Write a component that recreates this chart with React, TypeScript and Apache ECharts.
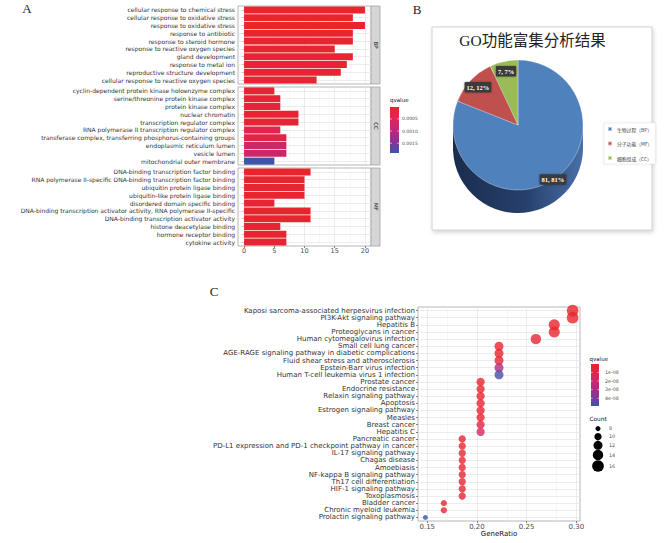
import React, { useEffect, useRef } from 'react';
import * as echarts from 'echarts';

// ---------------- Panel A: GO bar chart ----------------
const bpTerms = [
  'cellular response to chemical stress',
  'cellular response to oxidative stress',
  'response to oxidative stress',
  'response to antibiotic',
  'response to steroid hormone',
  'response to reactive oxygen species',
  'gland development',
  'response to metal ion',
  'reproductive structure development',
  'cellular response to reactive oxygen species',
];
const bpCounts = [20, 18, 20, 18, 18, 15, 18, 17, 16, 12];
const bpQ = [0.00001, 0.00002, 0.00001, 0.00003, 0.00004, 0.00008, 0.00005, 0.00006, 0.00007, 0.0001];

const ccTerms = [
  'cyclin-dependent protein kinase holoenzyme complex',
  'serine/threonine protein kinase complex',
  'protein kinase complex',
  'nuclear chromatin',
  'transcription regulator complex',
  'RNA polymerase II transcription regulator complex',
  'transferase complex, transferring phosphorus-containing groups',
  'endoplasmic reticulum lumen',
  'vesicle lumen',
  'mitochondrial outer membrane',
];
const ccCounts = [5, 6, 6, 9, 9, 6, 7, 7, 7, 5];
const ccQ = [0.00012, 0.00015, 0.0002, 0.0001, 0.0001, 0.0004, 0.0003, 0.0007, 0.00072, 0.0019];

const mfTerms = [
  'DNA-binding transcription factor binding',
  'RNA polymerase II-specific DNA-binding transcription factor binding',
  'ubiquitin protein ligase binding',
  'ubiquitin-like protein ligase binding',
  'disordered domain specific binding',
  'DNA-binding transcription activator activity, RNA polymerase II-specific',
  'DNA-binding transcription activator activity',
  'histone deacetylase binding',
  'hormone receptor binding',
  'cytokine activity',
];
const mfCounts = [11, 10, 10, 10, 5, 11, 11, 6, 7, 7];
const mfQ = [0.00003, 0.00005, 0.00006, 0.00006, 0.0001, 0.00004, 0.00004, 0.00012, 0.00009, 0.00011];

const ontologyLabels = ['BP', 'CC', 'MF'];
const countTicksA = [0, 5, 10, 15, 20];
const countMinorA = [2.5, 7.5, 12.5, 17.5];
const qTicksA = [0.0005, 0.001, 0.0015];
const qTickLabelsA = ['0.0005', '0.0010', '0.0015'];

// ---------------- Panel B: pie ----------------
const pieTitle = 'GO功能富集分析结果';
const pieNames = ['生物过程（BP）', '分子功能（MF）', '细胞组成（CC）'];
const pieValues = [81, 12, 7];

// ---------------- Panel C: KEGG dot plot ----------------
const keggTerms = [
  'Kaposi sarcoma-associated herpesvirus infection',
  'PI3K-Akt signaling pathway',
  'Hepatitis B',
  'Proteoglycans in cancer',
  'Human cytomegalovirus infection',
  'Small cell lung cancer',
  'AGE-RAGE signaling pathway in diabetic complications',
  'Fluid shear stress and atherosclerosis',
  'Epstein-Barr virus infection',
  'Human T-cell leukemia virus 1 infection',
  'Prostate cancer',
  'Endocrine resistance',
  'Relaxin signaling pathway',
  'Apoptosis',
  'Estrogen signaling pathway',
  'Measles',
  'Breast cancer',
  'Hepatitis C',
  'Pancreatic cancer',
  'PD-L1 expression and PD-1 checkpoint pathway in cancer',
  'IL-17 signaling pathway',
  'Chagas disease',
  'Amoebiasis',
  'NF-kappa B signaling pathway',
  'Th17 cell differentiation',
  'HIF-1 signaling pathway',
  'Toxoplasmosis',
  'Bladder cancer',
  'Chronic myeloid leukemia',
  'Prolactin signaling pathway',
];
const keggRatio = [
  0.2963, 0.2963, 0.2778, 0.2778, 0.2593,
  0.2222, 0.2222, 0.2222, 0.2222, 0.2222,
  0.2037, 0.2037, 0.2037, 0.2037, 0.2037, 0.2037, 0.2037, 0.2037,
  0.1852, 0.1852, 0.1852, 0.1852, 0.1852, 0.1852, 0.1852, 0.1852, 0.1852,
  0.1667, 0.1667, 0.1481,
];
const keggCount = [
  16, 16, 15, 15, 14,
  12, 12, 12, 12, 12,
  11, 11, 11, 11, 11, 11, 11, 11,
  10, 10, 10, 10, 10, 10, 10, 10, 10,
  9, 9, 8,
];
const keggQ = [
  2.1e-10, 3.5e-10, 1.2e-9, 1.3e-9, 2.8e-9,
  1.5e-9, 1.6e-9, 2.4e-9, 2.9e-8, 4.7e-8,
  9e-10, 1.0e-9, 1.8e-9, 1.9e-9, 2.2e-9, 3.1e-9, 6.5e-9, 1.6e-8,
  1.3e-9, 1.6e-9, 1.7e-9, 2.0e-9, 2.1e-9, 2.3e-9, 2.6e-9, 2.7e-9, 3.5e-9,
  1.3e-9, 3.4e-9, 4.9e-8,
];
const ratioTicksC = [0.15, 0.2, 0.25, 0.3];
const ratioMinorC = [0.175, 0.225, 0.275];
const qTicksC = [1e-8, 2e-8, 3e-8, 4e-8];
const qTickLabelsC = ['1e-08', '2e-08', '3e-08', '4e-08'];
const countLegend = [8, 10, 12, 14, 16];

// ---------------- styles / layout ----------------
const FONT = 'DejaVu Sans, Verdana, sans-serif';
const SERIF = 'Liberation Serif, Times New Roman, serif';
const Q_COLORS = ['#e9242b', '#e02455', '#c2267a', '#8e3097', '#3b55a8'];
const PIE_COLORS = ['#4f81bd', '#c0504d', '#9bbb59'];
const A_LEFT = 238;
const A_WIDTH = 133;
const A_TOPS = [6, 87, 168];
const A_HEIGHT = 78;
const C_GRID = { left: 418, top: 307, width: 162, height: 214 };
const PIE_CENTER = [518, 125];
const PIE_R = 65;
const SIDE_OFFSETS = [23, 16, 8];
const COUNT_LEGEND_Y = [428.6, 436.7, 445.3, 455, 466];

const sizeOf = (c: number) => Math.sqrt(25 + (c - 8) * 14);

function buildOption() {
  const panels = [
    { terms: bpTerms, counts: bpCounts, q: bpQ },
    { terms: ccTerms, counts: ccCounts, q: ccQ },
    { terms: mfTerms, counts: mfCounts, q: mfQ },
  ];
  const allQA = [...bpQ, ...ccQ, ...mfQ];
  const qMinA = Math.min(...allQA);
  const qMaxA = Math.max(...allQA);
  const qMinC = Math.min(...keggQ);
  const qMaxC = Math.max(...keggQ);
  const rMin = Math.min(...keggRatio);
  const rMax = Math.max(...keggRatio);
  const rPad = (rMax - rMin) * 0.05;

  const majorLine = { color: '#e4e4e4', width: 0.7, type: 'solid' };
  const minorLine = { color: '#f1f1f1', width: 0.5, type: 'solid' };

  const gradStops = Q_COLORS.map((c, i) => ({ offset: i / (Q_COLORS.length - 1), color: c }));

  const grids: any[] = A_TOPS.map((t) => ({
    left: A_LEFT, top: t, width: A_WIDTH, height: A_HEIGHT,
    show: true, backgroundColor: '#ffffff', borderColor: '#a3a3a3', borderWidth: 0.8,
  }));
  grids.push({ ...C_GRID, show: true, backgroundColor: '#ffffff', borderColor: '#a3a3a3', borderWidth: 0.8 });

  const xAxes: any[] = panels.map((_, i) => ({
    type: 'value', gridIndex: i, min: -1, max: 21,
    axisLine: { show: false }, splitLine: { show: false },
    axisTick: { show: i === 2, customValues: countTicksA, length: 2, lineStyle: { color: '#333', width: 0.6 } },
    axisLabel: { show: i === 2, customValues: countTicksA, fontSize: 6.5, color: '#4d4d4d', margin: 1.5, fontFamily: FONT },
  }));
  xAxes.push({
    type: 'value', gridIndex: 3, min: rMin - rPad, max: rMax + rPad,
    axisLine: { show: false }, splitLine: { show: false },
    axisTick: { show: true, customValues: ratioTicksC, length: 2, lineStyle: { color: '#333', width: 0.6 } },
    axisLabel: {
      show: true, customValues: ratioTicksC, fontSize: 7, color: '#4d4d4d', margin: 2, fontFamily: FONT,
      formatter: (v: number) => v.toFixed(2),
    },
    name: 'GeneRatio', nameLocation: 'middle', nameGap: 9,
    nameTextStyle: { fontSize: 7, color: '#111', fontFamily: FONT, verticalAlign: 'top' },
  });

  const yAxes: any[] = panels.map((p, i) => ({
    type: 'category', gridIndex: i, data: p.terms, inverse: true,
    axisLine: { show: false }, splitLine: { show: false },
    axisTick: { show: true, alignWithLabel: true, interval: 0, length: 2, lineStyle: { color: '#333', width: 0.6 } },
    axisLabel: { interval: 0, fontSize: 6, lineHeight: 6, color: '#333', margin: 3, fontFamily: FONT },
  }));
  yAxes.push({
    type: 'category', gridIndex: 3, data: keggTerms, inverse: true,
    axisLine: { show: false }, splitLine: { show: false },
    axisTick: { show: true, alignWithLabel: true, interval: 0, length: 2, lineStyle: { color: '#333', width: 0.6 } },
    axisLabel: { interval: 0, fontSize: 7, lineHeight: 7, color: '#333', margin: 3, fontFamily: FONT },
  });

  const series: any[] = panels.map((p, i) => ({
    type: 'bar', xAxisIndex: i, yAxisIndex: i, barWidth: '90%', z: 3, silent: true,
    data: p.terms.map((_, j) => [p.counts[j], j, p.q[j]]),
    encode: { x: 0, y: 1 },
    markLine: {
      silent: true, symbol: ['none', 'none'], z: 1, animation: false,
      label: { show: false }, emphasis: { disabled: true },
      lineStyle: { type: 'solid' },
      data: [
        ...countMinorA.map((v) => ({ xAxis: v, lineStyle: minorLine })),
        ...countTicksA.map((v) => ({ xAxis: v, lineStyle: majorLine })),
        ...p.terms.map((_, j) => ({ yAxis: j, lineStyle: majorLine })),
      ],
    },
  }));

  series.push({
    type: 'scatter', xAxisIndex: 3, yAxisIndex: 3, z: 3, silent: true,
    data: keggTerms.map((_, j) => [keggRatio[j], j, keggQ[j], keggCount[j]]),
    encode: { x: 0, y: 1 },
    symbolSize: (v: number[]) => sizeOf(v[3]),
    markLine: {
      silent: true, symbol: ['none', 'none'], z: 1, animation: false,
      label: { show: false }, emphasis: { disabled: true },
      lineStyle: { type: 'solid' },
      data: [
        ...ratioMinorC.map((v) => ({ xAxis: v, lineStyle: minorLine })),
        ...ratioTicksC.map((v) => ({ xAxis: v, lineStyle: majorLine })),
        ...keggTerms.map((_, j) => ({ yAxis: j, lineStyle: majorLine })),
      ],
    },
  });

  // main pie face (first pie so the legend takes its colours)
  series.push({
    type: 'pie', center: PIE_CENTER, radius: PIE_R, startAngle: 90, clockwise: true, z: 5, silent: true,
    data: pieNames.map((n, i) => ({ name: n, value: pieValues[i], itemStyle: { color: PIE_COLORS[i] } })),
    label: { show: false }, labelLine: { show: false },
    itemStyle: { borderColor: 'rgba(255,255,255,0.55)', borderWidth: 0.6 },
    emphasis: { disabled: true },
  });
  // label ring
  series.push({
    type: 'pie', center: PIE_CENTER, radius: [PIE_R * 0.6, PIE_R], startAngle: 90, clockwise: true, z: 6, silent: true,
    data: pieNames.map((n, i) => ({
      name: n, value: pieValues[i],
      ...(i === 0 ? { label: { offset: [4, 9] } } : {}),
    })),
    itemStyle: { color: 'rgba(0,0,0,0)' },
    label: {
      show: true, position: 'inside', formatter: '{c}, {d}%',
      backgroundColor: '#3b3b3b', color: '#ffffff', fontSize: 6.5, fontWeight: 'bold', fontFamily: SERIF,
      padding: [2, 2, 1.5, 2], borderRadius: 1,
      shadowBlur: 2, shadowColor: 'rgba(0,0,0,0.35)',
    },
    labelLine: { show: false },
    emphasis: { disabled: true },
  });
  // 3D side of the pie
  const sideColor = new echarts.graphic.LinearGradient(0, 0, 1, 0, [
    { offset: 0, color: '#1a2d4e' },
    { offset: 0.55, color: '#263f6b' },
    { offset: 1, color: '#4870a8' },
  ]);
  SIDE_OFFSETS.forEach((off) => {
    series.push({
      type: 'pie', center: [PIE_CENTER[0], PIE_CENTER[1] + off], radius: PIE_R, startAngle: 90, clockwise: true,
      z: 4, silent: true,
      data: pieNames.map((n, i) => ({ name: n, value: pieValues[i] })),
      itemStyle: { color: sideColor },
      label: { show: false }, labelLine: { show: false },
      emphasis: { disabled: true },
    });
  });

  const text = (x: number, y: number, t: string, size: number, o: any = {}) => ({
    type: 'text', x, y, rotation: o.rotation || 0, z: o.z ?? 10, silent: true,
    style: {
      text: t, fontSize: size, fontFamily: o.family || FONT, fill: o.fill || '#333',
      fontWeight: o.weight || 'normal',
      align: o.align || 'left', textAlign: o.align || 'left',
      verticalAlign: o.va || 'middle', textVerticalAlign: o.va || 'middle',
    },
  });

  const elements: any[] = [];
  // panel B frame
  elements.push({
    type: 'rect', z: -1, silent: true,
    shape: { x: 432, y: 27, width: 220, height: 203 },
    style: { fill: '#ffffff', stroke: '#c6c6c6', lineWidth: 0.8, shadowBlur: 4, shadowOffsetX: 1, shadowOffsetY: 2, shadowColor: 'rgba(0,0,0,0.18)' },
  });
  elements.push(text(532.5, 40, pieTitle, 15.5, { family: 'Liberation Serif, Noto Sans CJK SC, serif', fill: '#222', align: 'center' }));
  // panel letters
  elements.push(text(27, 8.5, 'A', 13, { family: SERIF, fill: '#222', align: 'center' }));
  elements.push(text(417, 9, 'B', 13, { family: SERIF, fill: '#222', align: 'center' }));
  elements.push(text(214, 291, 'C', 13, { family: SERIF, fill: '#222', align: 'center' }));
  // facet strips
  A_TOPS.forEach((t, i) => {
    elements.push({
      type: 'rect', z: 1, silent: true,
      shape: { x: A_LEFT + A_WIDTH, y: t, width: 9, height: A_HEIGHT },
      style: { fill: '#d6d6d6', stroke: '#a3a3a3', lineWidth: 0.8 },
    });
    elements.push(text(A_LEFT + A_WIDTH + 4.5, t + A_HEIGHT / 2, ontologyLabels[i], 5.5, {
      rotation: -Math.PI / 2, align: 'center', fill: '#1a1a1a',
    }));
  });

  // qvalue legend A
  const barA = { x: 390, y: 107, w: 9, h: 46 };
  elements.push(text(390, 100, 'qvalue', 5.5, { fill: '#111' }));
  elements.push({
    type: 'rect', z: 2, silent: true, shape: { x: barA.x, y: barA.y, width: barA.w, height: barA.h },
    style: { fill: new echarts.graphic.LinearGradient(0, 0, 0, 1, gradStops) },
  });
  qTicksA.forEach((q, i) => {
    const y = barA.y + ((q - qMinA) / (qMaxA - qMinA)) * barA.h;
    elements.push({ type: 'line', z: 3, silent: true, shape: { x1: barA.x, y1: y, x2: barA.x + 1.8, y2: y }, style: { stroke: '#fff', lineWidth: 0.6 } });
    elements.push({ type: 'line', z: 3, silent: true, shape: { x1: barA.x + barA.w - 1.8, y1: y, x2: barA.x + barA.w, y2: y }, style: { stroke: '#fff', lineWidth: 0.6 } });
    elements.push(text(barA.x + barA.w + 3, y, qTickLabelsA[i], 4.5, { fill: '#4d4d4d' }));
  });

  // qvalue legend C
  const barC = { x: 591, y: 364, w: 8, h: 42 };
  elements.push(text(589.5, 359, 'qvalue', 5.5, { fill: '#111' }));
  elements.push({
    type: 'rect', z: 2, silent: true, shape: { x: barC.x, y: barC.y, width: barC.w, height: barC.h },
    style: { fill: new echarts.graphic.LinearGradient(0, 0, 0, 1, gradStops) },
  });
  qTicksC.forEach((q, i) => {
    const y = barC.y + ((q - qMinC) / (qMaxC - qMinC)) * barC.h;
    elements.push({ type: 'line', z: 3, silent: true, shape: { x1: barC.x, y1: y, x2: barC.x + 1.6, y2: y }, style: { stroke: '#fff', lineWidth: 0.6 } });
    elements.push({ type: 'line', z: 3, silent: true, shape: { x1: barC.x + barC.w - 1.6, y1: y, x2: barC.x + barC.w, y2: y }, style: { stroke: '#fff', lineWidth: 0.6 } });
    elements.push(text(barC.x + barC.w + 6, y, qTickLabelsC[i], 4.8, { fill: '#4d4d4d' }));
  });

  // Count legend C
  elements.push(text(589.5, 419.3, 'Count', 5.8, { fill: '#111' }));
  countLegend.forEach((c, i) => {
    elements.push({
      type: 'circle', z: 3, silent: true,
      shape: { cx: 598, cy: COUNT_LEGEND_Y[i], r: sizeOf(c) / 2 },
      style: { fill: '#000' },
    });
    elements.push(text(609, COUNT_LEGEND_Y[i], String(c), 4.8, { fill: '#4d4d4d' }));
  });

  return {
    animation: false,
    backgroundColor: '#ffffff',
    grid: grids,
    xAxis: xAxes,
    yAxis: yAxes,
    visualMap: [
      { type: 'continuous', show: false, seriesIndex: [0, 1, 2], dimension: 2, min: qMinA, max: qMaxA, inRange: { color: Q_COLORS } },
      { type: 'continuous', show: false, seriesIndex: [3], dimension: 2, min: qMinC, max: qMaxC, inRange: { color: Q_COLORS } },
    ],
    legend: {
      data: pieNames, orient: 'vertical', left: 604, top: 123,
      itemWidth: 4, itemHeight: 4, itemGap: 8.5, icon: 'rect', selectedMode: false,
      textStyle: { fontSize: 4.8, color: '#404040', fontFamily: 'Noto Sans CJK SC, sans-serif' },
      padding: [3, 3, 3, 3], backgroundColor: '#ffffff', borderColor: '#e2e2e2', borderWidth: 0.5,
      shadowBlur: 2, shadowColor: 'rgba(0,0,0,0.12)',
    },
    series,
    graphic: { elements },
  };
}

export default function App() {
  const ref = useRef<HTMLDivElement>(null);
  useEffect(() => {
    if (!ref.current) return;
    const chart = echarts.init(ref.current, undefined, { renderer: 'svg', width: 665, height: 543 });
    chart.setOption(buildOption() as any);
    return () => chart.dispose();
  }, []);
  return (
    <div
      ref={ref}
      style={{ position: 'fixed', left: 0, top: 0, width: 665, height: 543, background: '#ffffff' }}
    />
  );
}
